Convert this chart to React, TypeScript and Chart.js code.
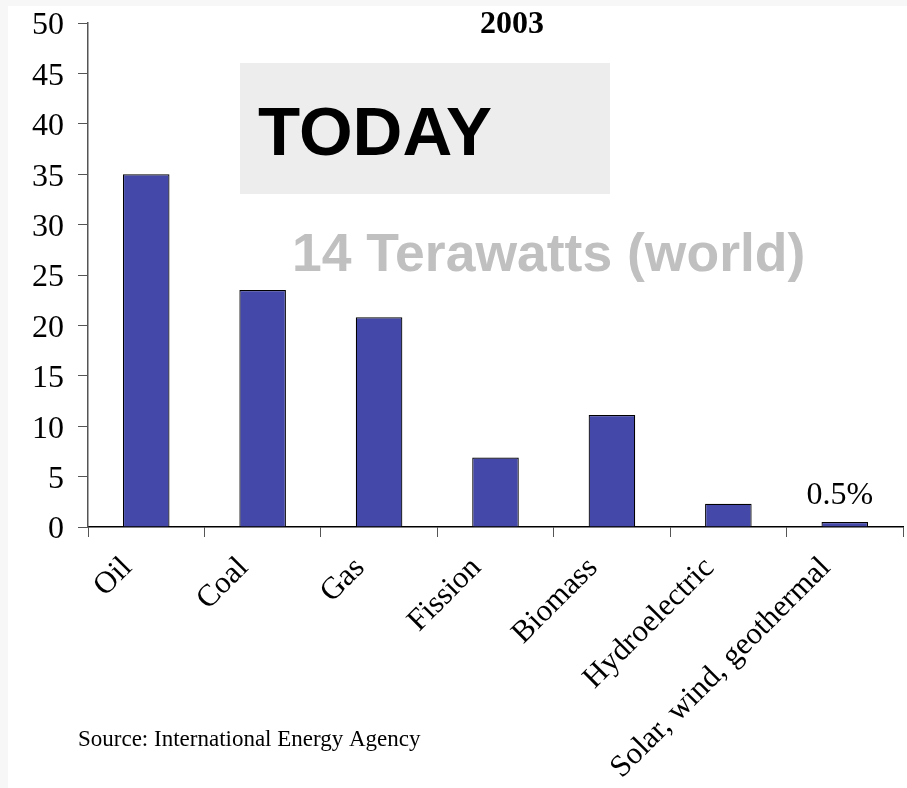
import React, { useEffect, useRef } from "react";
import { Chart, registerables } from "chart.js";

Chart.register(...registerables);

const categories: string[] = [
  "Oil",
  "Coal",
  "Gas",
  "Fission",
  "Biomass",
  "Hydroelectric",
  "Solar, wind, geothermal",
];
const shares: number[] = [35, 23.5, 20.8, 6.9, 11.1, 2.3, 0.5];
const yTicks: number[] = [0, 5, 10, 15, 20, 25, 30, 35, 40, 45, 50];
const chartTitle = "2003";
const boxLabel = "TODAY";
const subLabel = "14 Terawatts (world)";
const lastBarLabel = "0.5%";
const sourceLabel = "Source: International Energy Agency";

const SERIF = '"Liberation Serif", "Times New Roman", serif';
const SANS = '"Liberation Sans", Arial, sans-serif';

const overlayPlugin = {
  id: "overlay",
  afterDraw(chart: any) {
    const ctx = chart.ctx;
    ctx.save();
    // title
    ctx.fillStyle = "#000";
    ctx.font = `bold 32px ${SERIF}`;
    ctx.textAlign = "center";
    ctx.textBaseline = "alphabetic";
    ctx.fillText(chartTitle, 504, 27);

    // grey box with TODAY
    ctx.fillStyle = "#ededed";
    ctx.fillRect(232, 57, 370, 131);
    ctx.fillStyle = "#000";
    ctx.font = `bold 69px ${SANS}`;
    ctx.textAlign = "left";
    ctx.fillText(boxLabel, 250, 149);

    // subtitle
    ctx.fillStyle = "#c0c0c0";
    ctx.font = `bold 53.5px ${SANS}`;
    ctx.fillText(subLabel, 284, 265);

    // label over last bar
    const meta = chart.getDatasetMeta(0);
    const last = meta.data[meta.data.length - 1];
    ctx.fillStyle = "#000";
    ctx.font = `32px ${SERIF}`;
    ctx.textAlign = "center";
    ctx.fillText(lastBarLabel, last.x - 5, last.y - 18);

    // source
    ctx.font = `23px ${SERIF}`;
    ctx.textAlign = "left";
    ctx.fillText(sourceLabel, 70, 740);
    ctx.restore();
  },
};

export default function App() {
  const ref = useRef<HTMLCanvasElement | null>(null);

  useEffect(() => {
    document.body.style.margin = "6px 0 0 8px";
    document.body.style.background = "#f7f7f7";
    const canvas = ref.current;
    if (!canvas) return;
    const chart = new Chart(canvas, {
      type: "bar",
      data: {
        labels: categories,
        datasets: [
          {
            data: shares,
            backgroundColor: "#4448a8",
            borderColor: "#000000",
            borderWidth: 1.2,
            barPercentage: 0.8,
            categoryPercentage: 0.5,
          },
        ],
      },
      options: {
        responsive: false,
        animation: false,
        devicePixelRatio: 1,
        layout: { padding: { top: 17, right: 4, left: 0, bottom: 0 } },
        plugins: {
          legend: { display: false },
          tooltip: { enabled: false },
          title: { display: false },
        },
        scales: {
          x: {
            afterFit(scale: any) {
              scale.height = 261;
              scale.paddingLeft = 0;
              scale.paddingRight = 0;
            },
            grid: {
              drawOnChartArea: false,
              drawTicks: true,
              tickLength: 10,
              color: "#555",
              offset: true,
            },
            border: { color: "#000", width: 1.5 },
            ticks: {
              autoSkip: false,
              minRotation: 45,
              maxRotation: 45,
              padding: 13,
              labelOffset: -19,
              color: "#000",
              font: { family: SERIF, size: 31 },
            },
          },
          y: {
            min: 0,
            max: 50,
            afterFit(scale: any) {
              scale.width = 80;
              scale.paddingTop = 0;
              scale.paddingBottom = 0;
            },
            afterBuildTicks(scale: any) {
              scale.ticks = yTicks.map((v) => ({ value: v }));
            },
            grid: {
              drawOnChartArea: false,
              drawTicks: true,
              tickLength: 10,
              color: "#555",
            },
            border: { color: "#555", width: 1.5 },
            ticks: {
              padding: 14,
              labelOffset: 3,
              color: "#000",
              font: { family: SERIF, size: 32, lineHeight: 1 },
            },
          },
        },
      },
      plugins: [overlayPlugin],
    });
    return () => chart.destroy();
  }, []);

  return (
    <div style={{ width: 899, height: 782, background: "#fff" }}>
      <canvas ref={ref} width={899} height={782} style={{ display: "block" }} />
    </div>
  );
}
